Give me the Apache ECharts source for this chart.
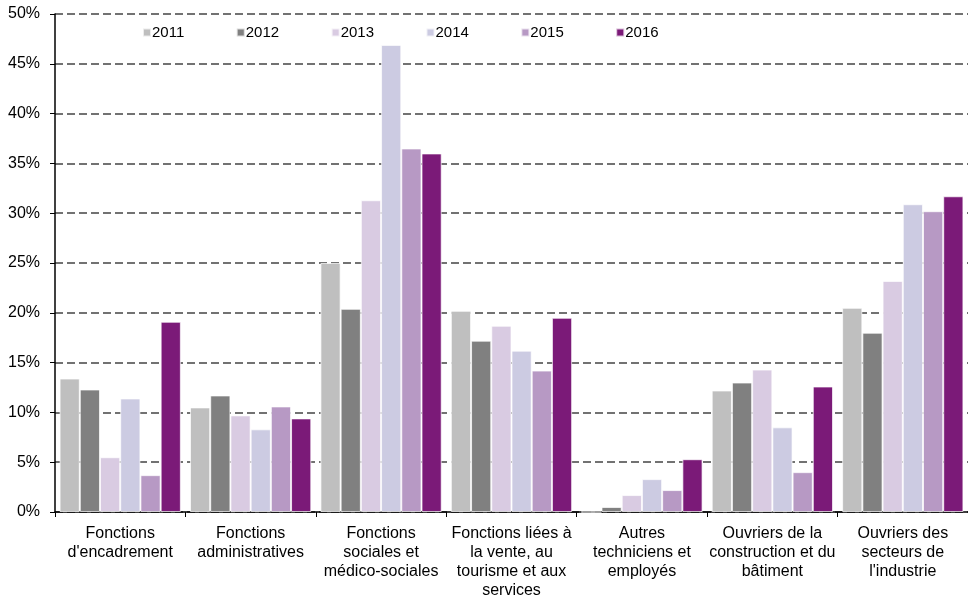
<!DOCTYPE html>
<html>
<head>
<meta charset="utf-8">
<script src="https://cdn.jsdelivr.net/npm/echarts@6/dist/echarts.min.js"></script>
<style>
  html, body { margin: 0; padding: 0; background: #fff; }
  #chart { width: 968px; height: 595px; }
</style>
</head>
<body>
<div id="chart"></div>
<script>
// categories (line breaks as in the original labels)
var categories = [
  'Fonctions\nd\'encadrement',
  'Fonctions\nadministratives',
  'Fonctions\nsociales et\nmédico-sociales',
  'Fonctions liées à\nla vente, au\ntourisme et aux\nservices',
  'Autres\ntechniciens et\nemployés',
  'Ouvriers de la\nconstruction et du\nbâtiment',
  'Ouvriers des\nsecteurs de\nl\'industrie'
];

var years = ['2011', '2012', '2013', '2014', '2015', '2016'];
var colors = ['#bfbfbf', '#808080', '#d9cbe2', '#cccbe2', '#b799c4', '#7b1a78'];

// values in %
var v2011 = [13.4, 10.5, 25.0, 20.2, 0.0, 12.2, 20.5];
var v2012 = [12.3, 11.7, 20.4, 17.2, 0.5, 13.0, 18.0];
var v2013 = [5.5, 9.7, 31.3, 18.7, 1.7, 14.3, 23.2];
var v2014 = [11.4, 8.3, 46.9, 16.2, 3.3, 8.5, 30.9];
var v2015 = [3.7, 10.6, 36.5, 14.2, 2.2, 4.0, 30.2];
var v2016 = [19.1, 9.4, 36.0, 19.5, 5.3, 12.6, 31.7];
var seriesValues = [v2011, v2012, v2013, v2014, v2015, v2016];

var chart = echarts.init(document.getElementById('chart'));

var series = years.map(function (y, i) {
  return {
    name: y,
    type: 'bar',
    data: seriesValues[i],
    barGap: '0%',
    barCategoryGap: '7%',
    itemStyle: {
      color: colors[i],
      borderColor: 'rgba(255,255,255,0.7)',
      borderWidth: 1
    }
  };
});

chart.setOption({
  animation: false,
  textStyle: { fontFamily: 'Liberation Sans, Arial, sans-serif' },
  legend: {
    data: years,
    top: 20,
    left: 137,
    itemWidth: 8,
    itemHeight: 8,
    itemGap: 51.5,
    icon: 'rect',
    textStyle: { fontSize: 15, color: '#000', padding: [0, 0, 0, -4] }
  },
  grid: { left: 55, right: 0, top: 14, bottom: 83, outerBoundsMode: 'none' },
  xAxis: {
    type: 'category',
    data: categories,
    axisLine: { lineStyle: { color: '#000', width: 1.5 } },
    axisTick: { show: true, length: 5, lineStyle: { color: '#000' } },
    axisLabel: {
      interval: 0,
      fontSize: 16,
      color: '#000',
      lineHeight: 19,
      margin: 12
    }
  },
  yAxis: {
    type: 'value',
    min: 0,
    max: 50,
    interval: 5,
    axisLine: { show: true, lineStyle: { color: '#000', width: 1.5 } },
    axisTick: { show: true, length: 5, lineStyle: { color: '#000' } },
    axisLabel: {
      formatter: '{value}%',
      fontSize: 16,
      color: '#000',
      margin: 15
    },
    splitLine: {
      show: true,
      lineStyle: { color: '#444', width: 1.5, type: [8, 4] }
    }
  },
  series: series
});
</script>
</body>
</html>
